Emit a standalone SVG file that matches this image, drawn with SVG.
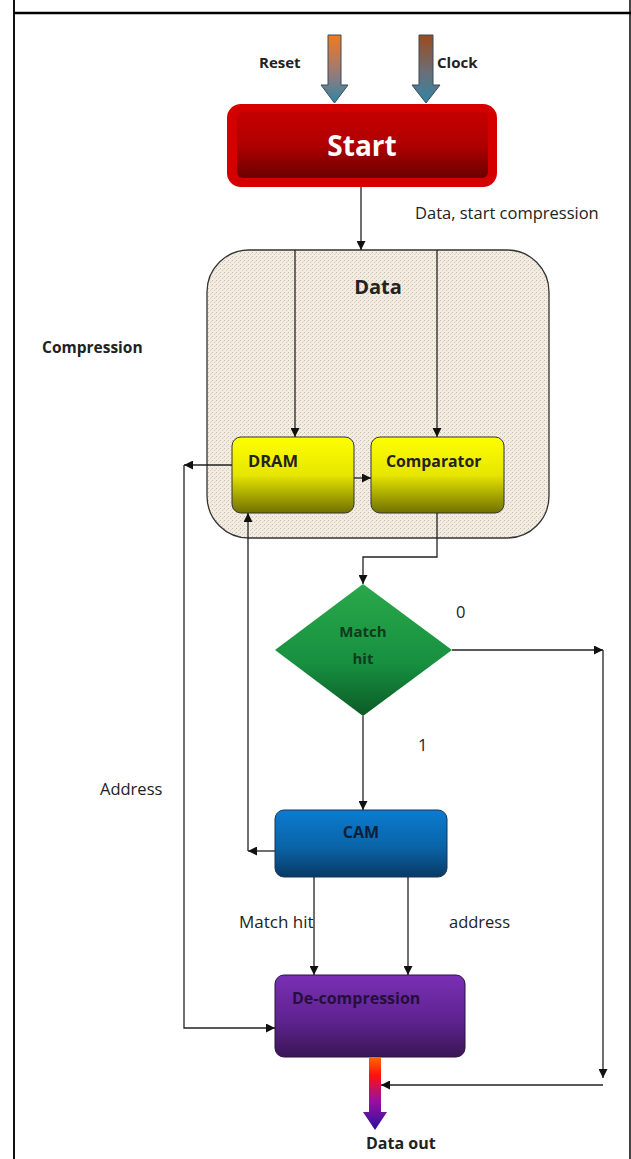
<svg xmlns="http://www.w3.org/2000/svg" width="631" height="1159" viewBox="0 0 631 1159">
<defs>
<style>
.lbl{font-family:"Open Sans","Liberation Sans",sans-serif;fill:#222}
.b{font-weight:bold}
.conn{fill:none;stroke:#222;stroke-width:1.3}
</style>
<marker id="ah" viewBox="0 0 10 10" refX="10" refY="5" markerWidth="9" markerHeight="9" markerUnits="userSpaceOnUse" orient="auto">
<path d="M0,0 L10,5 L0,10 z" fill="#111"/>
</marker>
<pattern id="tex" width="4" height="4" patternUnits="userSpaceOnUse">
<rect width="4" height="4" fill="#f2ece2"/>
<rect x="0" y="0" width="1" height="1" fill="#c9bca6"/>
<rect x="2" y="2" width="1" height="1" fill="#d8ccb8"/>
<rect x="3" y="1" width="1" height="1" fill="#e2d8c8"/>
</pattern>
<linearGradient id="gReset" x1="0" y1="0" x2="0" y2="1">
<stop offset="0" stop-color="#f07a1e"/><stop offset="0.55" stop-color="#9a7a78"/><stop offset="1" stop-color="#2f86a6"/>
</linearGradient>
<linearGradient id="gClock" x1="0" y1="0" x2="0" y2="1">
<stop offset="0" stop-color="#9a4a1c"/><stop offset="0.55" stop-color="#6a6f78"/><stop offset="1" stop-color="#2f86a6"/>
</linearGradient>
<linearGradient id="gStart" x1="0" y1="0" x2="0" y2="1">
<stop offset="0" stop-color="#c40000"/><stop offset="0.5" stop-color="#b00000"/><stop offset="1" stop-color="#6a0000"/>
</linearGradient>
<linearGradient id="gYel" x1="0" y1="0" x2="0" y2="1">
<stop offset="0" stop-color="#ffff00"/><stop offset="0.5" stop-color="#e6e600"/><stop offset="1" stop-color="#707000"/>
</linearGradient>
<linearGradient id="gGreen" x1="0" y1="0" x2="0" y2="1">
<stop offset="0" stop-color="#2aa84a"/><stop offset="0.6" stop-color="#179040"/><stop offset="1" stop-color="#0b5a26"/>
</linearGradient>
<linearGradient id="gBlue" x1="0" y1="0" x2="0" y2="1">
<stop offset="0" stop-color="#0b7bd0"/><stop offset="0.55" stop-color="#0a64a8"/><stop offset="1" stop-color="#083a66"/>
</linearGradient>
<linearGradient id="gPurp" x1="0" y1="0" x2="0" y2="1">
<stop offset="0" stop-color="#7a2fb4"/><stop offset="0.55" stop-color="#5e2390"/><stop offset="1" stop-color="#3a1656"/>
</linearGradient>
<linearGradient id="gOut" x1="0" y1="0" x2="0" y2="1">
<stop offset="0" stop-color="#ff6a00"/><stop offset="0.25" stop-color="#ff1010"/><stop offset="0.6" stop-color="#9a10a0"/><stop offset="1" stop-color="#2a10a0"/>
</linearGradient>
</defs>

<rect width="631" height="1159" fill="#ffffff"/>
<g id="frame">
<line x1="14" y1="0" x2="14" y2="1159" stroke="#111" stroke-width="2"/>
<line x1="630" y1="0" x2="630" y2="1159" stroke="#444" stroke-width="2"/>
<line x1="14" y1="13" x2="631" y2="13" stroke="#000" stroke-width="2.5"/>
</g>

<g id="reset">
<path d="M328,35 H341 V85 H348 L334.5,103 L321,85 H328 Z" fill="url(#gReset)" stroke="#3a4a58" stroke-width="1"/>
<text class="lbl b" x="259" y="68" style="font-size:15px">Reset</text>
</g>
<g id="clock">
<path d="M419,35 H433 V85 H440 L426,103 L412,85 H419 Z" fill="url(#gClock)" stroke="#3a4a58" stroke-width="1"/>
<text class="lbl b" x="437" y="68" style="font-size:15px">Clock</text>
</g>

<g id="start">
<rect x="227" y="104" width="270" height="83" rx="14" fill="#d40000"/>
<rect x="237" y="112" width="251" height="66" rx="6" fill="url(#gStart)"/>
<text x="362" y="156" text-anchor="middle" font-family="Open Sans,Liberation Sans,sans-serif" font-weight="bold" font-size="28" fill="#ffffff">Start</text>
</g>

<g id="data">
<rect x="207" y="250" width="342" height="288" rx="42" fill="url(#tex)" stroke="#333" stroke-width="1.3"/>
<text class="lbl b" x="378" y="294" text-anchor="middle" style="font-size:20px">Data</text>
</g>

<g id="dram">
<rect x="232" y="437" width="122" height="76" rx="9" fill="url(#gYel)" stroke="#333" stroke-width="1"/>
<text class="lbl b" x="248" y="467" style="font-size:16.5px">DRAM</text>
</g>
<g id="comparator">
<rect x="371" y="437" width="133" height="76" rx="9" fill="url(#gYel)" stroke="#333" stroke-width="1"/>
<text class="lbl b" x="386" y="467" style="font-size:15.8px">Comparator</text>
</g>

<g id="matchhit">
<polygon points="363,584 452,650 363,716 275,650" fill="url(#gGreen)"/>
<text class="lbl b" x="363" y="637" text-anchor="middle" style="font-size:15px;fill:#103a1c">Match</text>
<text class="lbl b" x="363" y="664" text-anchor="middle" style="font-size:15px;fill:#103a1c">hit</text>
</g>

<g id="cam">
<rect x="275" y="810" width="172" height="67" rx="9" fill="url(#gBlue)" stroke="#1a3450" stroke-width="1"/>
<text class="lbl b" x="361" y="838" text-anchor="middle" style="font-size:16px;fill:#0a2038">CAM</text>
</g>

<g id="decompression">
<rect x="275" y="975" width="190" height="82" rx="9" fill="url(#gPurp)" stroke="#2a1040" stroke-width="1"/>
<text class="lbl b" x="292" y="1004" style="font-size:16px;fill:#24103a">De-compression</text>
</g>

<g id="dataout">
<path d="M369,1057 H381 V1112 H387 L375,1130 L363,1112 H369 Z" fill="url(#gOut)"/>
<text class="lbl b" x="366" y="1149" style="font-size:16px">Data out</text>
</g>

<g id="connectors">
<line class="conn" x1="361" y1="187" x2="361" y2="250" marker-end="url(#ah)"/>
<line class="conn" x1="295" y1="250" x2="295" y2="437" marker-end="url(#ah)"/>
<line class="conn" x1="437" y1="250" x2="437" y2="437" marker-end="url(#ah)"/>
<line class="conn" x1="354" y1="478" x2="371" y2="478" marker-end="url(#ah)"/>
<line class="conn" x1="232" y1="465" x2="184" y2="465" marker-end="url(#ah)"/>
<polyline class="conn" points="184,465 184,1028 275,1028" marker-end="url(#ah)"/>
<polyline class="conn" points="437,513 437,557 363,557 363,584" marker-end="url(#ah)"/>
<polyline class="conn" points="452,650 603,650" marker-end="url(#ah)"/>
<polyline class="conn" points="603,650 603,1078" marker-end="url(#ah)"/>
<line class="conn" x1="603" y1="1085" x2="381" y2="1085" marker-end="url(#ah)"/>
<line class="conn" x1="363" y1="716" x2="363" y2="810" marker-end="url(#ah)"/>
<line class="conn" x1="275" y1="851" x2="248" y2="851" marker-end="url(#ah)"/>
<line class="conn" x1="248" y1="851" x2="248" y2="513" marker-end="url(#ah)"/>
<line class="conn" x1="314" y1="877" x2="314" y2="975" marker-end="url(#ah)"/>
<line class="conn" x1="408" y1="877" x2="408" y2="975" marker-end="url(#ah)"/>
</g>

<g id="labels">
<text class="lbl" x="415" y="219" style="font-size:16.5px">Data, start compression</text>
<text class="lbl b" x="42" y="353" style="font-size:15.5px">Compression</text>
<text class="lbl" x="456" y="618" style="font-size:16.5px">0</text>
<text class="lbl" x="418" y="751" style="font-size:16.5px">1</text>
<text class="lbl" x="100" y="795" style="font-size:16.5px">Address</text>
<text class="lbl" x="239" y="928" style="font-size:17px">Match hit</text>
<text class="lbl" x="449" y="928" style="font-size:16.5px">address</text>
</g>
</svg>
